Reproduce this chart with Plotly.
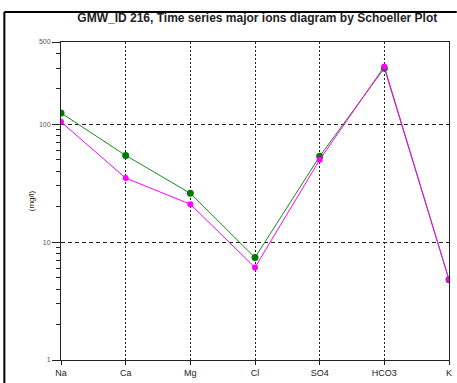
import plotly.graph_objects as go

ions = ['Na', 'Ca', 'Mg', 'Cl', 'SO4', 'HCO3', 'K']
sample_a = [125, 54.5, 26, 7.4, 53.5, 300, 4.8]   # green
sample_b = [105, 35, 21, 6.1, 50, 310, 4.8]       # magenta

major_ticks = [1, 10, 100, 500]
minor_ticks = [2, 3, 4, 5, 6, 7, 8, 9, 20, 30, 40, 50, 60, 70, 80, 90, 200, 300, 400]

fig = go.Figure()
fig.add_trace(go.Scatter(x=ions, y=sample_a, mode='lines+markers',
                         line=dict(color='#1a8a1a', width=1),
                         marker=dict(color='#007a00', size=7)))
fig.add_trace(go.Scatter(x=ions, y=sample_b, mode='lines+markers',
                         line=dict(color='#ff00ff', width=1),
                         marker=dict(color='#ff00ff', size=6)))

fig.update_layout(
    width=457, height=383,
    margin=dict(l=61, r=5, t=42, b=21),
    paper_bgcolor='white', plot_bgcolor='white',
    showlegend=False,
    font=dict(family='Liberation Sans, Arial', color='#222'),
    title=dict(text='<b>GMW_ID 216, Time series major ions diagram by Schoeller Plot</b>',
               x=0.563, xanchor='center', y=0.953, yanchor='middle',
               font=dict(size=12, color='#222')),
)
fig.update_xaxes(
    type='category', range=[0, 6],
    showline=True, linecolor='#222', linewidth=1, mirror=True,
    ticks='outside', ticklen=4, tickcolor='#222',
    tickfont=dict(size=9),
    showgrid=True, gridcolor='#222', griddash='2px,2px', gridwidth=1,
    zeroline=False,
)
fig.update_yaxes(
    type='log', range=[0, 2.69897],
    tickvals=major_ticks, ticktext=[str(v) for v in major_ticks],
    showline=True, linecolor='#222', linewidth=1, mirror=True,
    ticks='outside', ticklen=8, tickcolor='#222',
    tickfont=dict(size=7, color='#555'),
    showgrid=True, gridcolor='#222', griddash='4px,3px', gridwidth=1,
    minor=dict(tickvals=minor_ticks, ticks='outside', ticklen=4,
               tickcolor='#222', showgrid=False),
    title=dict(text='(mg/l)', font=dict(size=8, color='#222'), standoff=3),
    zeroline=False,
)

# outer frame of the original graphic (left and top edges)
fig.add_shape(type='line', xref='paper', yref='paper', x0=-0.146, x1=-0.146, y0=-0.1, y1=1.094,
              line=dict(color='black', width=2))
fig.add_shape(type='line', xref='paper', yref='paper', x0=-0.146, x1=1.02, y0=1.094, y1=1.094,
              line=dict(color='black', width=2))

fig.write_html('out.html', config={'displayModeBar': False},
               post_script="document.body.style.margin='0';")
